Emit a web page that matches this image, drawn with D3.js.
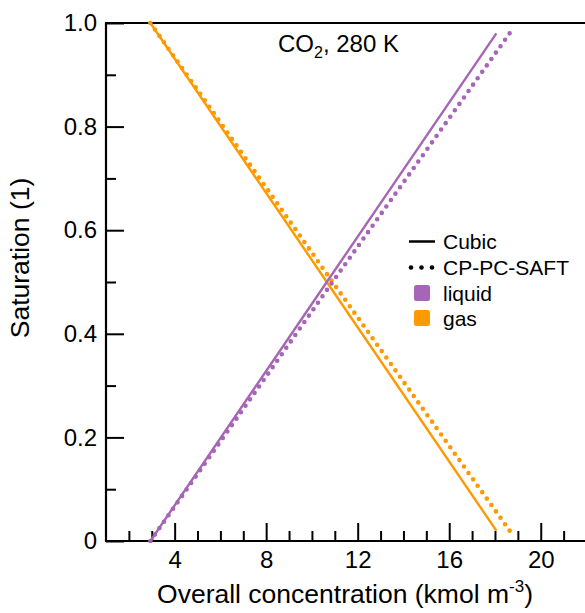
<!DOCTYPE html>
<html>
<head>
<meta charset="utf-8">
<script src="https://cdn.jsdelivr.net/npm/d3@7"></script>
<style>
  html, body { margin: 0; padding: 0; background: #fff; }
  svg { display: block; font-family: "Liberation Sans", Arial, sans-serif; }
</style>
</head>
<body>
<svg id="chart" width="585" height="613"></svg>
<script>
// Overall CO2 concentration (kmol m^-3) against phase saturation at 280 K
const cubicConc      = [2.94, 10.65, 18.06];
const cubicLiquidSat = [0.00, 0.50, 0.98];
const cubicGasSat    = [1.00, 0.50, 0.02];

const saftConc       = [2.94, 10.90, 18.64];
const saftLiquidSat  = [0.00, 0.50, 0.98];
const saftGasSat     = [1.00, 0.50, 0.02];

const xMajorTicks = [4, 8, 12, 16, 20];
const xMinorTicks = [2, 3, 5, 6, 7, 9, 10, 11, 13, 14, 15, 17, 18, 19, 21];
const yMajorTicks = [0, 0.2, 0.4, 0.6, 0.8, 1.0];
const yTickLabels = ["0", "0.2", "0.4", "0.6", "0.8", "1.0"];
const yMinorTicks = [0.1, 0.3, 0.5, 0.7, 0.9];

const legendStyles = ["Cubic", "CP-PC-SAFT"];
const legendPhases = ["liquid", "gas"];

const PURPLE = "#a665b6";
const ORANGE = "#ff9900";

const svg = d3.select("#chart");
const W = 585;
const plotLeft = 106, plotTop = 23, plotBottom = 541;

const x = d3.scaleLinear().domain([1, 22]).range([plotLeft, 586.5]);
const y = d3.scaleLinear().domain([0, 1]).range([plotBottom, plotTop]);

// axes: inward ticks, major + minor
const gx = svg.append("g").attr("transform", `translate(0,${plotBottom})`);
gx.call(d3.axisBottom(x).tickValues(xMinorTicks).tickSize(-10).tickSizeOuter(0).tickFormat(""));
gx.append("g").call(d3.axisBottom(x).tickValues(xMajorTicks).tickSize(-18).tickSizeOuter(0)
  .tickPadding(10).tickFormat(d3.format("d")));

const gy = svg.append("g").attr("transform", `translate(${plotLeft},0)`);
gy.call(d3.axisLeft(y).tickValues(yMinorTicks).tickSize(-10).tickSizeOuter(0).tickFormat(""));
gy.append("g").call(d3.axisLeft(y).tickValues(yMajorTicks).tickSize(-18).tickSizeOuter(0)
  .tickPadding(9).tickFormat((d, i) => yTickLabels[i]));

svg.selectAll(".domain").remove();
svg.selectAll(".tick line").attr("stroke", "#000").attr("stroke-width", 2);
svg.selectAll(".tick text").attr("fill", "#000").attr("font-size", 24)
  .attr("font-family", "Liberation Sans, Arial, sans-serif");

// frame: left, bottom and top lines
const frame = svg.append("g").attr("stroke", "#000").attr("stroke-width", 2.2).attr("fill", "none");
frame.append("line").attr("x1", plotLeft).attr("x2", plotLeft).attr("y1", plotTop - 1.1).attr("y2", plotBottom + 1.1);
frame.append("line").attr("x1", plotLeft).attr("x2", W).attr("y1", plotBottom).attr("y2", plotBottom);
frame.append("line").attr("x1", plotLeft).attr("x2", W).attr("y1", plotTop).attr("y2", plotTop);

// curves
const line = d3.line().x(d => x(d[0])).y(d => y(d[1]));
const zip = (a, b) => a.map((v, i) => [v, b[i]]);

const curves = [
  { pts: zip(saftConc, saftGasSat), color: ORANGE, dotted: true },
  { pts: zip(saftConc, saftLiquidSat), color: PURPLE, dotted: true },
  { pts: zip(cubicConc, cubicGasSat), color: ORANGE, dotted: false },
  { pts: zip(cubicConc, cubicLiquidSat), color: PURPLE, dotted: false }
];
curves.forEach(c => {
  const p = svg.append("path").attr("d", line(c.pts)).attr("fill", "none").attr("stroke", c.color);
  if (c.dotted) {
    // spread the dots so that one sits on each end of the path
    const len = p.node().getTotalLength();
    const gap = len / Math.round(len / 7.9);
    p.attr("stroke-width", 4.6).attr("stroke-linecap", "round").attr("stroke-dasharray", `0,${gap}`);
  } else {
    p.attr("stroke-width", 2.4);
  }
});

// annotation
const ann = svg.append("text").attr("x", 278).attr("y", 52).attr("font-size", 24).attr("fill", "#000");
ann.append("tspan").text("CO");
ann.append("tspan").attr("font-size", 16).attr("dy", 6).text("2");
ann.append("tspan").attr("dy", -6).text(", 280 K");

// axis titles
const xt = svg.append("text").attr("x", 345).attr("y", 603).attr("text-anchor", "middle")
  .attr("font-size", 26.5).attr("fill", "#000");
xt.append("tspan").text("Overall concentration (kmol m");
xt.append("tspan").attr("font-size", 17).attr("dy", -11).text("-3");
xt.append("tspan").attr("dy", 11).text(")");

svg.append("text").attr("transform", "translate(29,258) rotate(-90)")
  .attr("text-anchor", "middle").attr("font-size", 26.5).attr("fill", "#000")
  .text("Saturation (1)");

// legend
const lg = svg.append("g");
const rowY = [241.5, 267.5, 293, 318];
lg.append("line").attr("x1", 409).attr("x2", 435).attr("y1", rowY[0]).attr("y2", rowY[0])
  .attr("stroke", "#000").attr("stroke-width", 2.5);
[411, 421.5, 432].forEach(cx => {
  lg.append("circle").attr("cx", cx).attr("cy", rowY[1]).attr("r", 2.3).attr("fill", "#000");
});
[PURPLE, ORANGE].forEach((col, i) => {
  lg.append("rect").attr("x", 414).attr("y", rowY[i + 2] - 8).attr("width", 16).attr("height", 16)
    .attr("rx", 2.5).attr("fill", col);
});
legendStyles.concat(legendPhases).forEach((t, i) => {
  lg.append("text").attr("x", 443).attr("y", rowY[i]).attr("dy", "0.36em")
    .attr("font-size", 21).attr("fill", "#000").text(t);
});
</script>
</body>
</html>
